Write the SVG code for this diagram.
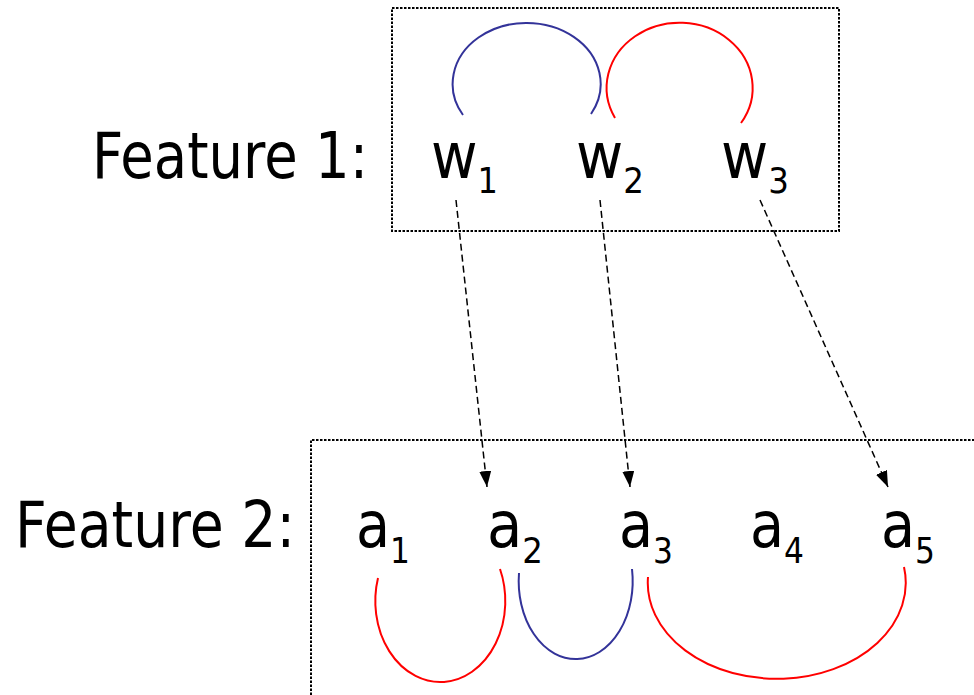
<svg xmlns="http://www.w3.org/2000/svg" width="974" height="695" viewBox="0 0 974 695">
  <style>
    .frame { fill: none; stroke: #000; stroke-width: 2; stroke-dasharray: 2.5 1.5; }
    .lbl { font-family: "DejaVu Sans", "Liberation Sans", sans-serif; font-size: 64px; fill: #000; }
    .sub { font-size: 36px; }
    .arc { fill: none; stroke-width: 2; }
    .red { stroke: #ff0000; }
    .blue { stroke: #333399; }
    .link { fill: none; stroke: #000; stroke-width: 1.5; stroke-dasharray: 7 4; }
  </style>
  <defs>
    <marker id="head" markerUnits="userSpaceOnUse" markerWidth="16" markerHeight="12" viewBox="0 0 16 12" refX="16" refY="6" orient="auto">
      <path d="M0,0 L16,6 L0,12 Z" fill="#000"/>
    </marker>
  </defs>

  <rect class="frame" x="392" y="8" width="447" height="223"/>
  <path class="frame" d="M311,695 V440 H974"/>

  <text class="lbl" x="92" y="178" textLength="276" lengthAdjust="spacingAndGlyphs">Feature 1:</text>
  <text class="lbl" x="15" y="547" textLength="280" lengthAdjust="spacingAndGlyphs">Feature 2:</text>

  <!-- Feature 1 words -->
  <g id="w1"><text class="lbl" x="431" y="178" textLength="67" lengthAdjust="spacingAndGlyphs">w<tspan class="sub" dy="15">1</tspan></text></g>
  <g id="w2"><text class="lbl" x="576" y="178" textLength="68" lengthAdjust="spacingAndGlyphs">w<tspan class="sub" dy="15">2</tspan></text></g>
  <g id="w3"><text class="lbl" x="721" y="178" textLength="68" lengthAdjust="spacingAndGlyphs">w<tspan class="sub" dy="15">3</tspan></text></g>

  <!-- Feature 2 words -->
  <g id="a1"><text class="lbl" x="356" y="547" textLength="54" lengthAdjust="spacingAndGlyphs">a<tspan class="sub" dy="16">1</tspan></text></g>
  <g id="a2"><text class="lbl" x="487" y="547" textLength="56" lengthAdjust="spacingAndGlyphs">a<tspan class="sub" dy="16">2</tspan></text></g>
  <g id="a3"><text class="lbl" x="619" y="547" textLength="54" lengthAdjust="spacingAndGlyphs">a<tspan class="sub" dy="16">3</tspan></text></g>
  <g id="a4"><text class="lbl" x="750" y="547" textLength="54" lengthAdjust="spacingAndGlyphs">a<tspan class="sub" dy="16">4</tspan></text></g>
  <g id="a5"><text class="lbl" x="881" y="547" textLength="54" lengthAdjust="spacingAndGlyphs">a<tspan class="sub" dy="16">5</tspan></text></g>

  <g id="connectors">
    <!-- dependency arcs, Feature 1 -->
    <path class="arc blue" d="M463,115 A74,61 0 1 1 591,114"/>
    <path class="arc red" d="M615,118 A73,65 0 1 1 741,123"/>
    <!-- dependency arcs, Feature 2 -->
    <path class="arc red" d="M378,578 A65,81 0 1 0 500,569"/>
    <path class="arc blue" d="M519,573 A57,78 0 1 0 632,569"/>
    <path class="arc red" d="M648,577 A129,96 0 1 0 904,567"/>
    <!-- alignment links -->
    <line class="link" x1="456" y1="200" x2="487" y2="487" marker-end="url(#head)"/>
    <line class="link" x1="600" y1="200" x2="630" y2="487" marker-end="url(#head)"/>
    <line class="link" x1="760" y1="200" x2="888" y2="487" marker-end="url(#head)"/>
  </g>
</svg>
